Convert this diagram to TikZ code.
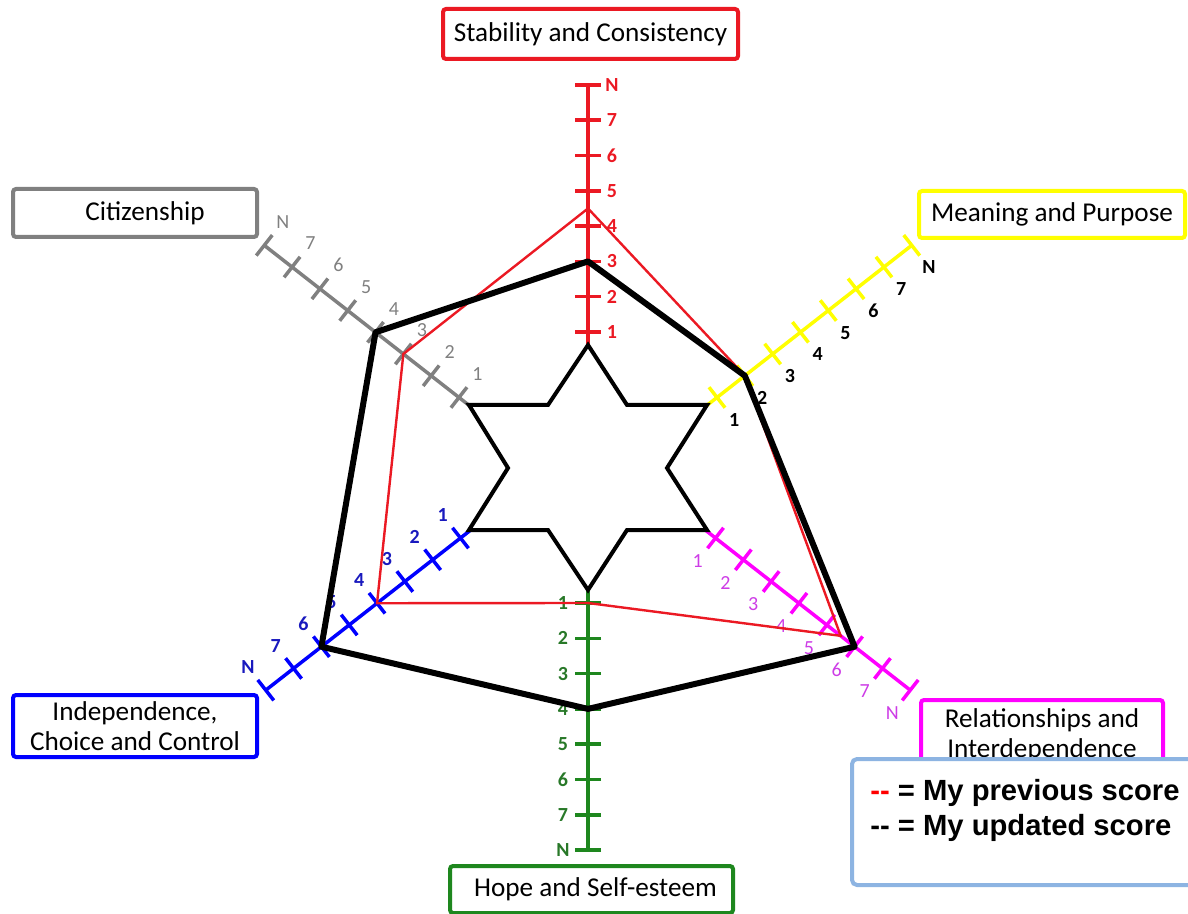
\documentclass[tikz,border=0pt]{standalone}
\usepackage{fontspec}
\setmainfont{Carlito}
\newfontfamily\legendfont{Liberation Sans}
\definecolor{axred}{RGB}{235,25,35}
\definecolor{axgray}{RGB}{128,128,128}
\definecolor{axyellow}{RGB}{255,255,0}
\definecolor{axblue}{RGB}{0,0,255}
\definecolor{axmagenta}{RGB}{255,0,255}
\definecolor{axgreen}{RGB}{30,135,30}
\definecolor{legblue}{RGB}{141,180,226}
\definecolor{lblblue}{RGB}{25,25,190}
\definecolor{lblmag}{RGB}{205,60,230}
\definecolor{lblgreen}{RGB}{40,120,40}
\newcommand{\stp}{35.3}
\begin{document}
\begin{tikzpicture}[x=0.5pt,y=-0.5pt,
	dombox/.style={draw,line width=2pt,rounded corners=1.5pt,fill=white,inner sep=0pt,align=center,
		font=\fontsize{13.6}{15}\selectfont},
	axline/.style={line width=1.75pt},
	numbold/.style={inner sep=0pt,font=\fontsize{10}{12}\selectfont\bfseries},
	numreg/.style={inner sep=0pt,font=\fontsize{10}{12}\selectfont},
	legtxt/.style={inner sep=0pt,font=\legendfont\fontsize{14.6}{17.5}\selectfont\bfseries}]
	\useasboundingbox (0,0) rectangle (1188,914);
	% domain boxes
	\node[dombox,draw=axred,minimum width=147.5pt,minimum height=25pt] (stab) at (590.5,34) {Stability and Consistency};
	\node[dombox,draw=axgray,minimum width=122pt,minimum height=24pt] (citiz) at (135,213) {\hspace*{10pt}Citizenship};
	\node[dombox,draw=axyellow,minimum width=133pt,minimum height=23.5pt] (mean) at (1052,214.5) {Meaning and Purpose};
	\node[dombox,draw=axblue,minimum width=122pt,minimum height=31pt] (indep) at (135,726) {Independence,\\Choice and Control};
	\node[dombox,draw=axmagenta,minimum width=121pt,minimum height=35pt] (rel) at (1042,735) {Relationships and\\Interdependence};
	\node[dombox,draw=axgreen,minimum width=141.5pt,minimum height=23.5pt] (hope) at (591.5,889.5) {\hspace*{4pt}Hope and Self-esteem};
	% axes
	\foreach \nm/\ox/\oy/\ang/\col/\lcol/\fw/\d in {red/588/367.3/90/axred/axred/numbold/24,
			grn/588/567.7/-90/axgreen/lblgreen/numbold/25,
			gry/486.8/419.2/142/axgray/axgray/numreg/30,
			yel/689.2/419.2/38/axyellow/black/numbold/28,
			blu/488.3/516.3/218/axblue/lblblue/numbold/29,
			mag/687.7/516.3/-38/axmagenta/lblmag/numreg/29}{
		\begin{scope}[shift={(\ox,\oy)},rotate=\ang]
			\draw[axline,\col] (22,0) -- (8*\stp,0);
			\foreach \i/\t in {1/1,2/2,3/3,4/4,5/5,6/6,7/7,8/N}{
				\draw[axline,\col] (\i*\stp,-13) -- (\i*\stp,13);
				\node[\fw,text=\lcol] (\nm-l\i) at (\i*\stp,\d) {\t};
				\coordinate (\nm-\i) at (\i*\stp,0);
				\coordinate (\nm-\i h) at (\i*\stp+0.5*\stp,0);
			}
		\end{scope}
	}
	% star
	\draw[line width=2pt] (588,345) -- (627,405) -- (707,405) -- (667,468) -- (707,530) -- (627,530)
		-- (588,590) -- (548,530) -- (469,530) -- (508,468) -- (469,405) -- (548,405) -- cycle;
	% scores
	\draw[axred,line width=1.2pt] (red-4h) -- (yel-2) -- (mag-5h) -- (grn-1) -- (blu-4) -- (gry-3) -- cycle;
	\draw[line width=3pt,line join=round] (red-3) -- (yel-2) -- (mag-6) -- (grn-4) -- (blu-6) -- (gry-4) -- cycle;
	% legend
	\node[draw=legblue,line width=2pt,rounded corners=2.5pt,fill=white,minimum width=175pt,minimum height=63pt,
		anchor=north west] (legend) at (850,757) {};
	\node[legtxt,anchor=base west] (prev) at (870,800) {\textcolor{red}{-\kern0pt-} = My previous score};
	\node[legtxt,anchor=base west] (upd) at (870,835) {-\kern0pt- = My updated score};
\end{tikzpicture}
\end{document}
